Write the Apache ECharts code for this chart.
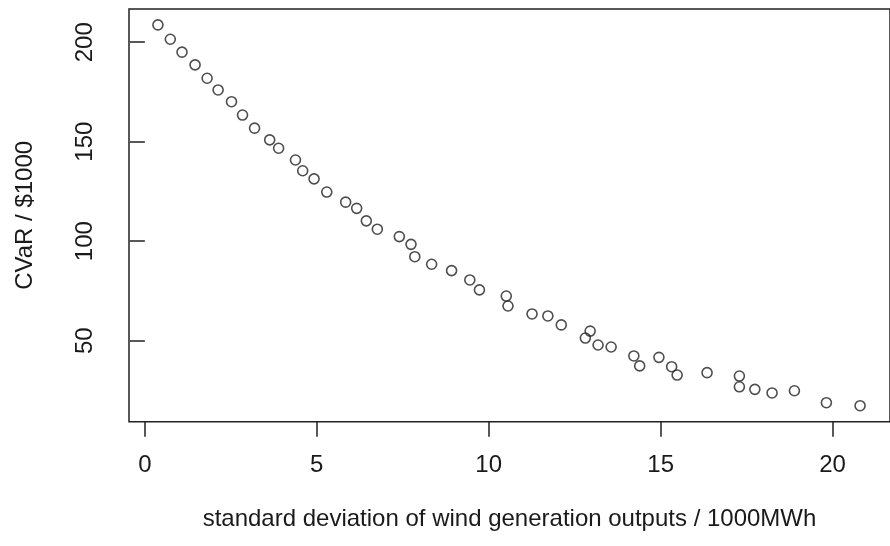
<!DOCTYPE html>
<html>
<head>
<meta charset="utf-8">
<script src="https://cdn.jsdelivr.net/npm/echarts@6/dist/echarts.min.js"></script>
<style>html,body{margin:0;padding:0;background:#fff}#c{width:890px;height:546px}</style>
</head>
<body>
<div id="c"></div>
<script>
var sdWind = [0.38,0.74,1.08,1.46,1.81,2.13,2.52,2.84,3.19,3.63,3.89,4.38,4.59,4.92,5.29,5.84,6.16,6.44,6.76,7.40,7.74,7.85,8.34,8.92,9.45,9.73,10.51,10.56,11.26,11.72,12.11,12.81,12.95,13.18,13.56,14.22,14.39,14.95,15.32,15.48,16.35,17.29,17.29,17.74,18.24,18.89,19.82,20.80];
var cvar = [208.7,201.5,195.0,188.6,181.9,176.0,170.1,163.4,156.8,150.9,146.7,140.8,135.4,131.3,124.7,119.6,116.5,110.2,106.0,102.3,98.4,92.2,88.4,85.2,80.5,75.5,72.4,67.4,63.4,62.4,57.9,51.3,54.8,47.8,46.8,42.3,37.3,41.6,36.9,32.7,33.9,32.2,26.8,25.5,23.7,24.8,18.8,17.3];
var xTicks = [0,5,10,15,20];
var yTicks = [50,100,150,200];
var xTitle = 'standard deviation of wind generation outputs / 1000MWh';
var yTitle = 'CVaR / $1000';

var pts = sdWind.map(function(x,i){return [x,cvar[i]];});
var font = '"Liberation Sans", Arial, sans-serif';
var chart = echarts.init(document.getElementById('c'));
chart.setOption({
  animation:false,
  backgroundColor:'#fff',
  grid:{left:129,top:9,width:767.3,height:412.7,show:true,borderColor:'#222',borderWidth:1.5,backgroundColor:'transparent'},
  xAxis:{type:'value',min:-0.4615,max:21.67,
    splitLine:{show:false},axisLine:{show:false},
    axisTick:{show:true,customValues:xTicks,length:15,lineStyle:{color:'#222',width:1.5}},
    axisLabel:{customValues:xTicks,margin:32,fontSize:24,color:'#1a1a1a',fontFamily:font,showMinLabel:true,showMaxLabel:true},
    name:xTitle,nameLocation:'middle',nameGap:86,nameTextStyle:{fontSize:24,color:'#1a1a1a',fontFamily:font}},
  yAxis:{type:'value',min:9.25,max:216.7,
    splitLine:{show:false},axisLine:{show:false},
    axisTick:{show:true,customValues:yTicks,length:15,lineStyle:{color:'#222',width:1.5}},
    axisLabel:{customValues:yTicks,margin:32,fontSize:24,rotate:90,color:'#1a1a1a',fontFamily:font},
    name:yTitle,nameLocation:'middle',nameGap:92,nameTextStyle:{fontSize:24,color:'#1a1a1a',fontFamily:font}},
  series:[{type:'scatter',data:pts,symbol:'circle',symbolSize:10,
    itemStyle:{color:'rgba(0,0,0,0)',borderColor:'#222',borderWidth:1.6}}]
});
</script>
</body>
</html>
